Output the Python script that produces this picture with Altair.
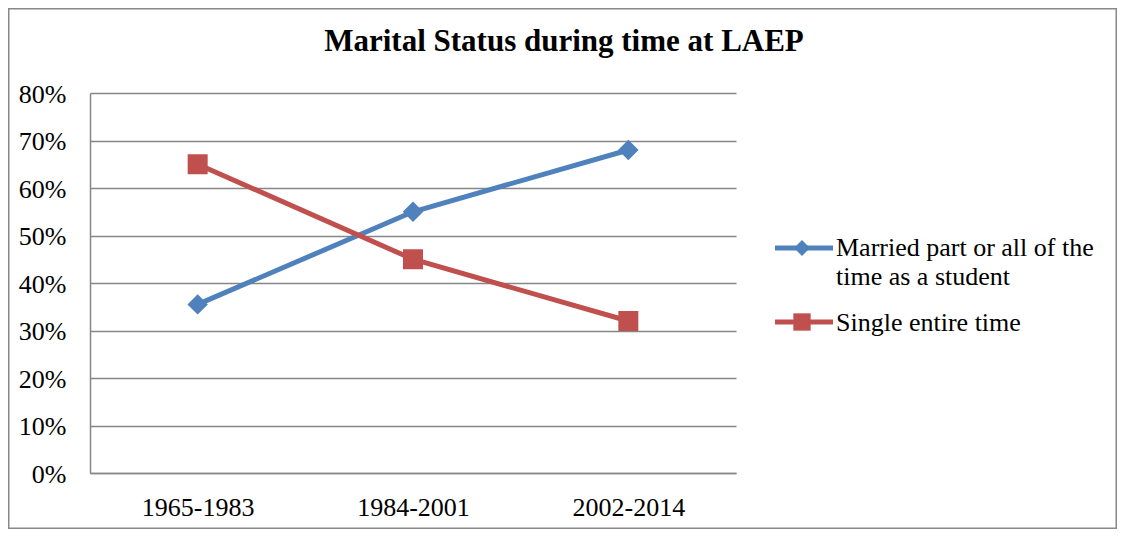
import altair as alt
import pandas as pd

periods = ["1965-1983", "1984-2001", "2002-2014"]
married = [0.355, 0.55, 0.68]
single = [0.65, 0.45, 0.32]
series_names = ["Married part or all of the time as a student", "Single entire time"]
legend_lines_married = ["Married part or all of the", "time as a student"]
legend_line_single = "Single entire time"
colors = ["#4F81BD", "#C0504D"]
y_ticks = [0, 0.1, 0.2, 0.3, 0.4, 0.5, 0.6, 0.7, 0.8]
title_text = "Marital Status during time at LAEP"

FONT = "Liberation Serif"
GRID = "#868686"

df = pd.DataFrame({
    "period": periods * 2,
    "value": married + single,
    "series": [series_names[0]] * 3 + [series_names[1]] * 3,
})

x = alt.X("period:N", sort=periods, scale=alt.Scale(padding=0.5),
          axis=alt.Axis(title=None, labelAngle=0, labelFont=FONT, labelFontSize=26,
                        labelColor="black", labelPadding=21, ticks=False,
                        domainColor=GRID, domainWidth=1.5, grid=False))
y = alt.Y("value:Q", scale=alt.Scale(domain=[0, 0.8], nice=False, zero=True),
          axis=alt.Axis(title=None, values=y_ticks, format=".0%", ticks=False,
                        labelPadding=24, labelFont=FONT, labelFontSize=26,
                        labelColor="black", gridColor=GRID, gridWidth=1.5,
                        domainColor=GRID, domainWidth=1.5, labelBaseline="middle",
                        labelOffset=1))
color = alt.Color("series:N", scale=alt.Scale(domain=series_names, range=colors), legend=None)

base = alt.Chart(df)
lines = base.mark_line(strokeWidth=5).encode(x=x, y=y, color=color)
diamonds = base.transform_filter(alt.datum.series == series_names[0]).mark_point(
    shape="diamond", filled=True, size=420, opacity=1).encode(x=x, y=y, color=color)
squares = base.transform_filter(alt.datum.series == series_names[1]).mark_point(
    shape="square", filled=True, size=400, opacity=1).encode(x=x, y=y, color=color)

one = pd.DataFrame({"k": [0]})

title = alt.Chart(one).mark_text(font=FONT, fontSize=31, fontWeight="bold", color="black",
                                 align="center", baseline="alphabetic").encode(
    x=alt.value(474), y=alt.value(-42), text=alt.value(title_text))

leg_line1 = alt.Chart(one).mark_rule(strokeWidth=5, color=colors[0]).encode(
    x=alt.value(685), x2=alt.value(743), y=alt.value(155))
leg_pt1 = alt.Chart(one).mark_point(shape="diamond", filled=True, size=256, opacity=1,
                                    color=colors[0]).encode(x=alt.value(712), y=alt.value(155))
leg_line2 = alt.Chart(one).mark_rule(strokeWidth=5, color=colors[1]).encode(
    x=alt.value(685), x2=alt.value(743), y=alt.value(229))
leg_pt2 = alt.Chart(one).mark_point(shape="square", filled=True, size=300, opacity=1,
                                    color=colors[1]).encode(x=alt.value(712), y=alt.value(229))

def ltext(txt, yy):
    return alt.Chart(one).mark_text(font=FONT, fontSize=26, color="black", align="left",
                                    baseline="alphabetic").encode(
        x=alt.value(746), y=alt.value(yy), text=alt.value(txt))

leg_t1 = ltext(legend_lines_married[0], 163)
leg_t2 = ltext(legend_lines_married[1], 192)
leg_t3 = ltext(legend_line_single, 238)

border = alt.Chart(one).mark_rect(fill=None, stroke="#888888", strokeWidth=1.5).encode(
    x=alt.value(-81.25), x2=alt.value(1026.25), y=alt.value(-84.25), y2=alt.value(435.25))

chart = alt.layer(
    lines, diamonds, squares, title,
    leg_line1, leg_pt1, leg_line2, leg_pt2, leg_t1, leg_t2, leg_t3, border
).properties(
    width=646, height=380,
    padding={"left": 82, "top": 85, "right": 381, "bottom": 56},
    autosize=alt.AutoSizeParams(type="none"),
    background="white",
).configure_view(stroke=None)

chart.save("out.html", embed_options={"renderer": "svg", "actions": False})
